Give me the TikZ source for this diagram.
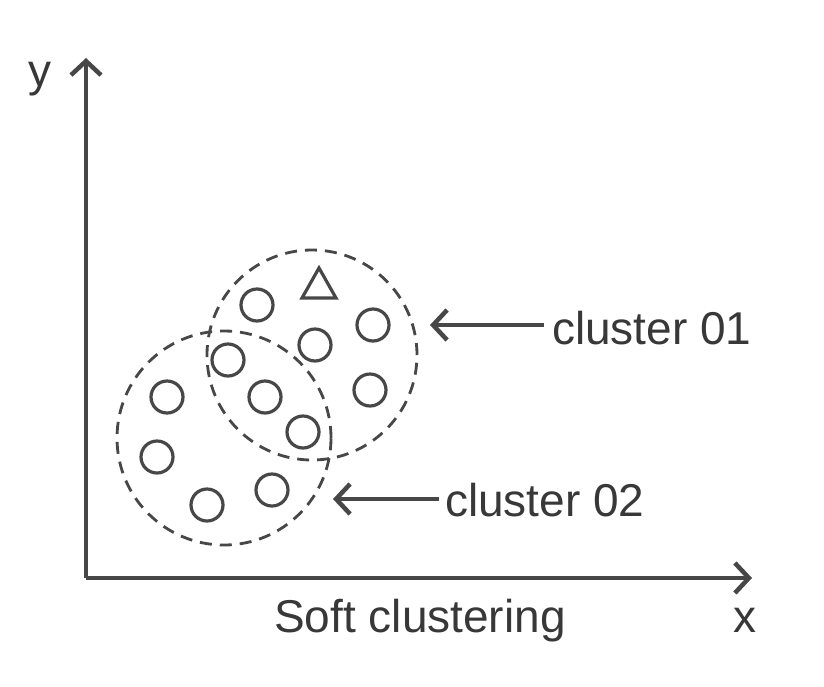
\documentclass[tikz,border=0pt]{standalone}
\usepackage{fontspec}
\setmainfont{Liberation Sans}
\usetikzlibrary{arrows.meta}
\begin{document}
\begin{tikzpicture}[x=1pt,y=-1pt,
  ink/.style={draw=black!72},
  axis/.style={ink,line width=3.8pt,-{Straight Barb[length=14pt,width=30pt,line width=4.5pt]}},
  pointer/.style={ink,line width=3.2pt,-{Straight Barb[length=14pt,width=30pt,line width=4.5pt]}},
  cluster/.style={ink,line width=2.8pt,dash pattern=on 12pt off 8pt},
  pt/.style={circle,ink,line width=3.2pt,minimum size=32pt,inner sep=0pt},
  lbl/.style={text=black!78,font=\fontsize{46}{55}\selectfont,inner sep=0pt}]
\useasboundingbox (0,0) rectangle (824,686);
\fill[white] (0,0) rectangle (824,686);

% axes
\coordinate (O) at (86,578);
\coordinate (ytip) at (86,58);
\coordinate (xtip) at (752,578);
\draw[axis] (O) -- (ytip);
\draw[axis] (O) -- (xtip);
\node[lbl,anchor=base] (ylab) at (40,86) {y};
\node[lbl,anchor=base] (xlab) at (745,632) {x};
\node[lbl,anchor=base] (title) at (420,632) {Soft clustering};

% clusters
\node[circle,cluster,minimum size=210pt,inner sep=0pt] (c1) at (312,355) {};
\node[circle,cluster,minimum size=214pt,inner sep=0pt] (c2) at (224,438) {};

% points
\node[pt] (p1) at (257,305) {};
\node[pt] (p2) at (373,325) {};
\node[pt] (p3) at (315,345) {};
\node[pt] (p4) at (228,360) {};
\node[pt] (p5) at (167,397) {};
\node[pt] (p6) at (265,397) {};
\node[pt] (p7) at (370,390) {};
\node[pt] (p8) at (303,432) {};
\node[pt] (p9) at (157,457) {};
\node[pt] (p10) at (272,490) {};
\node[pt] (p11) at (207,505) {};
\draw[ink,line width=3.2pt,line join=miter] (302,298) -- (319,268) -- (336,298) -- cycle;

% labels and pointers
\node[lbl,anchor=west] (l1) at (552,328) {cluster 01};
\node[lbl,anchor=west] (l2) at (445,500) {cluster 02};
\coordinate (a1) at (430,325);
\coordinate (a2) at (333,499);
\draw[pointer] (l1.west) ++(-8,-3) -- (a1);
\draw[pointer] (l2.west) ++(-6,-1) -- (a2);
\end{tikzpicture}
\end{document}
